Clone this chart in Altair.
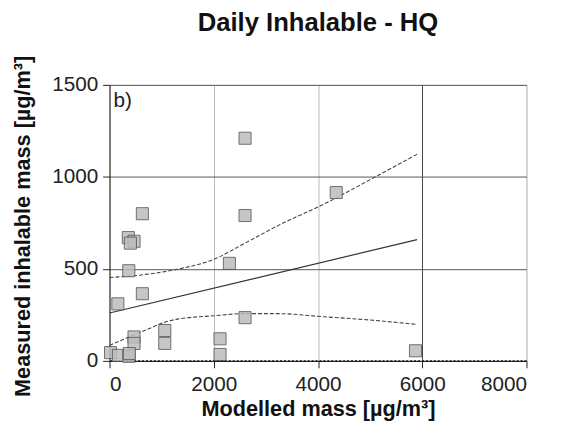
import altair as alt
import pandas as pd

# Scatter data (modelled vs measured)
pt_x = [2600, 630, 2600, 360, 470, 400, 370, 160, 630, 2300, 2600, 1060, 1060,
        470, 470, 2120, 2120, 20, 170, 370, 380, 4350, 5870]
pt_y = [1210, 800, 790, 670, 650, 640, 490, 310, 365, 530, 235, 165, 95,
        130, 95, 120, 35, 45, 30, 25, 40, 915, 55]

# Regression line
fit_x = [0, 5900]
fit_y = [260, 659]

# Confidence band curves
up_x = [0, 700, 1300, 2000, 2600, 3300, 4100, 5000, 5900]
up_y = [453, 470, 498, 552, 640, 745, 850, 985, 1123]
lo_x = [0, 350, 700, 1050, 1300, 2000, 2600, 3200, 4100, 5000, 5900]
lo_y = [84, 127, 168, 209, 227, 245, 257, 257, 240, 222, 198]

x_ticks = [0, 2000, 4000, 6000, 8000]
y_ticks = [0, 500, 1000, 1500]

pts = pd.DataFrame({"x": pt_x, "y": pt_y})
fit = pd.DataFrame({"x": fit_x, "y": fit_y})
band = pd.concat([
    pd.DataFrame({"x": up_x, "y": up_y, "band": "upper"}),
    pd.DataFrame({"x": lo_x, "y": lo_y, "band": "lower"}),
])

xs = alt.Scale(domain=[0, 8000], nice=False)
ys = alt.Scale(domain=[0, 1500], nice=False)

FONT = "Liberation Sans"

xaxis = alt.Axis(values=x_ticks, format="d", title="Modelled mass [µg/m³]", grid=True,
                 gridColor={"condition": {"test": "datum.value == 6000", "value": "#444"}, "value": "#bbb"},
                 gridWidth=1, tickSize=7, tickColor="#222", domainColor="#222",
                 labelFont=FONT, labelFontSize=21, labelColor="#222", labelPadding=6,
                 titleFont=FONT, titleFontSize=22, titleFontWeight="bold", titleColor="#111",
                 titlePadding=4)
yaxis = alt.Axis(values=y_ticks, format="d", title="Measured inhalable mass [µg/m³]", grid=True,
                 gridColor="#555", gridWidth=1, tickSize=7, tickColor="#222", domainColor="#222",
                 labelFont=FONT, labelFontSize=21, labelColor="#222", labelPadding=5,
                 titleFont=FONT, titleFontSize=22, titleFontWeight="bold", titleColor="#111",
                 titlePadding=17, titleY=143)

base_pts = alt.Chart(pts).mark_square(size=150, fill="#bdbdbd", stroke="#555",
                                      strokeWidth=1, opacity=0.85, clip=False).encode(
    x=alt.X("x:Q", scale=xs, axis=xaxis),
    y=alt.Y("y:Q", scale=ys, axis=yaxis),
)

fit_line = alt.Chart(fit).mark_line(color="#333", strokeWidth=1.2).encode(
    x=alt.X("x:Q", scale=xs), y=alt.Y("y:Q", scale=ys))

band_line = alt.Chart(band).mark_line(color="#444", strokeWidth=1.1, strokeDash=[4, 2],
                                      interpolate="monotone").encode(
    x=alt.X("x:Q", scale=xs), y=alt.Y("y:Q", scale=ys), detail="band:N")

zero_line = alt.Chart(pd.DataFrame({"y": [0]})).mark_rule(
    color="#111", strokeDash=[2, 2], strokeWidth=1.5).encode(y=alt.Y("y:Q", scale=ys))

label = alt.Chart(pd.DataFrame({"x": [75], "y": [1410], "t": ["b)"]})).mark_text(
    align="left", baseline="middle", font=FONT, fontSize=21, color="#222").encode(
    x=alt.X("x:Q", scale=xs), y=alt.Y("y:Q", scale=ys), text="t:N")

chart = alt.layer(zero_line, band_line, fit_line, base_pts, label).properties(
    width=423, height=280,
    autosize=alt.AutoSizeParams(type="none"),
    padding={"left": 103, "top": 75, "right": 35, "bottom": 59},
    title=alt.TitleParams("Daily Inhalable - HQ", font=FONT, fontSize=26, fontWeight="bold",
                          color="#111", anchor="middle", offset=19),
).configure_view(stroke="#222", strokeWidth=1.5).configure(background="white")

chart.save("out.html", embed_options={"renderer": "svg", "actions": False})
